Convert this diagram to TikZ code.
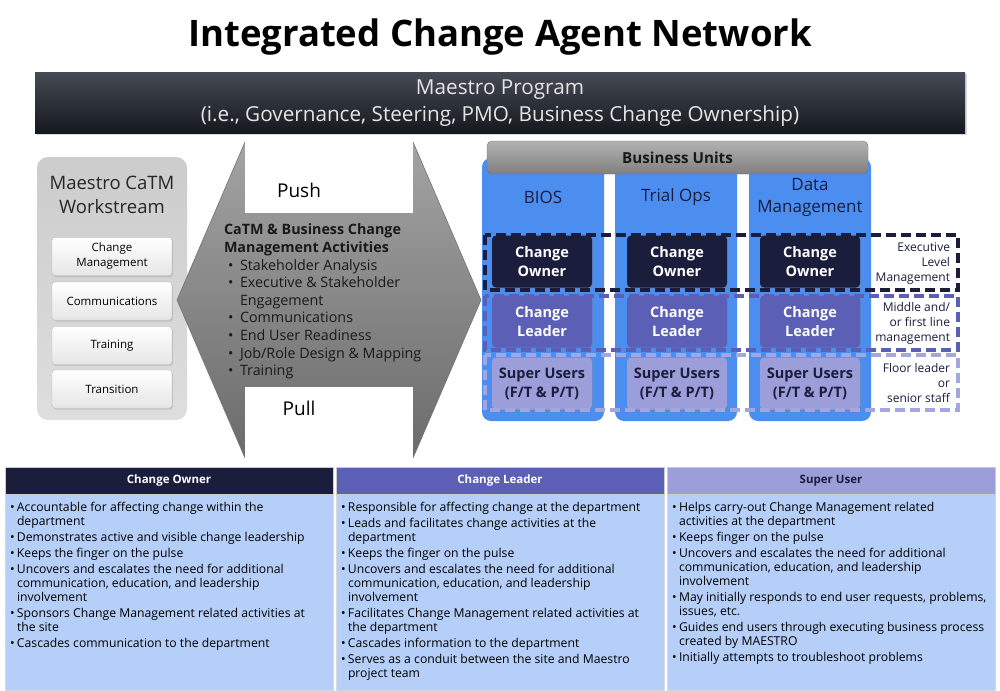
\documentclass[tikz,border=0pt]{standalone}
\usepackage{fontspec}
\setmainfont{Open Sans}
\usetikzlibrary{shadows}
\definecolor{navy}{HTML}{1B1D3D}
\definecolor{leader}{HTML}{5B5FB6}
\definecolor{superc}{HTML}{9C9EDA}
\definecolor{superdash}{HTML}{A4A6E0}
\definecolor{colblue}{HTML}{4C8EF0}
\definecolor{bodyblue}{HTML}{B5CFF8}
\definecolor{barTop}{HTML}{454A54}
\definecolor{barBot}{HTML}{15181E}
\newcommand{\bl}{\makebox[7pt][l]{•}}
\newcommand{\ct}{\hspace*{7pt}}
\newcommand{\ab}{\makebox[16pt][l]{\hspace{4pt}•}}
\begin{document}
\begin{tikzpicture}[x=1pt,y=-1pt,
  every node/.style={inner sep=0pt,outer sep=0pt},
  wbox/.style={minimum width=120pt,minimum height=38pt,rounded corners=3pt,
    top color=white,bottom color=black!10,draw=black!25,align=center,
    font=\fontsize{11.5}{15}\selectfont,drop shadow={opacity=0.25,shadow xshift=1pt,shadow yshift=-1.5pt}},
  colbox/.style={fill=colblue,rounded corners=9pt,minimum width=122pt,minimum height=263pt},
  colhead/.style={align=center,font=\fontsize{17}{22}\selectfont,text=navy},
  rolebox/.style={minimum width=100pt,minimum height=52pt,rounded corners=4pt,align=center,
    font=\bfseries\fontsize{14.5}{19}\selectfont,drop shadow={opacity=0.3,shadow xshift=1pt,shadow yshift=-1.5pt}},
  owner/.style={rolebox,fill=navy,text=white},
  lead/.style={rolebox,fill=leader,text=white},
  superu/.style={rolebox,fill=superc,text=navy},
  band/.style={dash pattern=on 10pt off 5pt,line width=3.5pt},
  lvl/.style={anchor=east,align=right,font=\fontsize{12}{15}\selectfont,text=navy},
  thead/.style={minimum width=328pt,minimum height=27pt,font=\bfseries\fontsize{11.5}{14}\selectfont,draw=black!20},
  tbody/.style={minimum width=328pt,minimum height=196pt,fill=bodyblue,draw=black!15},
  ttext/.style={anchor=north west,align=left,font=\fontsize{12.2}{14}\selectfont,text=black}
]
\useasboundingbox (0,0) rectangle (1000,690);
\fill[white] (0,0) rectangle (1000,690);

% title
\node[font=\bfseries\fontsize{36.5}{40}\selectfont] (title) at (500,37) {Integrated Change Agent Network};

% program bar
\node[top color=barTop,bottom color=barBot,minimum width=930pt,minimum height=60pt,
  drop shadow={opacity=0.3,shadow xshift=1.5pt,shadow yshift=-1.5pt},
  align=center,text=white!90!black,font=\fontsize{20.7}{27}\selectfont] (prog) at (500,103)
  {Maestro Program\\(i.e., Governance, Steering, PMO, Business Change Ownership)};

% workstream
\node[rounded corners=11pt,top color=black!20,bottom color=black!13,minimum width=150pt,minimum height=263pt] (ws) at (112,288.5) {};
\node[align=center,font=\fontsize{18.5}{24}\selectfont,text=black!85] (wst) at (112,195) {Maestro CaTM\\Workstream};
\node[wbox] (w1) at (112,256.5) {Change\\Management};
\node[wbox] (w2) at (112,301) {Communications};
\node[wbox] (w3) at (112,345.5) {Training};
\node[wbox] (w4) at (112,389) {Transition};

% push/pull arrow
\path[top color=black!36,bottom color=black!58,draw=black!55,line width=0.6pt]
  (245,142) -- (413,142) -- (481,300) -- (413,458) -- (245,458) -- (177,300) -- cycle;
\fill[white] (245.3,141) rectangle (412.7,213);
\fill[white] (245.3,387) rectangle (412.7,459);
\node[font=\fontsize{19}{22}\selectfont] (push) at (299,190) {Push};
\node[font=\fontsize{19}{22}\selectfont] (pull) at (299,408) {Pull};
\node[anchor=north west,align=left,font=\fontsize{14.3}{17.6}\selectfont,text=black!90] (acts) at (224,224)
  {{\bfseries CaTM \& Business Change}\\
   {\bfseries Management Activities}\\
   \ab Stakeholder Analysis\\
   \ab Executive \& Stakeholder\\
   \hspace*{16pt}Engagement\\
   \ab Communications\\
   \ab End User Readiness\\
   \ab Job/Role Design \& Mapping\\
   \ab Training};

% business units
\node[colbox] (c1) at (543,289.5) {};
\node[colbox] (c2) at (676,289.5) {};
\node[colbox] (c3) at (810,289.5) {};
\node[rounded corners=5pt,top color=black!30,bottom color=black!50,draw=black!55,
  minimum width=381pt,minimum height=33pt,font=\bfseries\fontsize{15.2}{17}\selectfont,text=black!90] (bu) at (677.5,157.5) {Business Units};
\node[colhead] (h1) at (543,197) {BIOS};
\node[colhead] (h2) at (676,197) {Trial Ops};
\node[colhead] (h3) at (810,197) {Data\\Management};

\node[owner] (o1) at (542,261.5) {Change\\Owner};
\node[owner] (o2) at (677,261.5) {Change\\Owner};
\node[owner] (o3) at (810,261.5) {Change\\Owner};
\node[lead] (l1) at (542,321.5) {Change\\Leader};
\node[lead] (l2) at (677,321.5) {Change\\Leader};
\node[lead] (l3) at (810,321.5) {Change\\Leader};
\node[superu] (s1) at (542,383.5) {Super Users\\(F/T \& P/T)};
\node[superu] (s2) at (677,383.5) {Super Users\\(F/T \& P/T)};
\node[superu] (s3) at (810,383.5) {Super Users\\(F/T \& P/T)};

\draw[band,draw=superdash] (485,355) rectangle (958,410);
\draw[band,draw=leader] (485,296) rectangle (958,350);
\draw[band,draw=navy] (485,235) rectangle (958,290);

\node[lvl] (e1) at (950,264) {Executive\\Level\\Management};
\node[lvl] (e2) at (950,323) {Middle and/\\or first line\\management};
\node[lvl] (e3) at (950,383) {Floor leader\\or\\senior staff};

% bottom table
\node[tbody] (b1) at (169,592) {};
\node[tbody] (b2) at (500,592) {};
\node[tbody] (b3) at (831,592) {};
\node[thead,fill=navy,text=white] (t1) at (169,480.5) {Change Owner};
\node[thead,fill=leader,text=white] (t2) at (500,480.5) {Change Leader};
\node[thead,fill=superc,text=navy] (t3) at (831,480.5) {Super User};

\node[ttext] (x1) at (10,502) {%
\bl Accountable for affecting change within the\\
\ct department\\[2pt]
\bl Demonstrates active and visible change leadership\\[2pt]
\bl Keeps the finger on the pulse\\[2pt]
\bl Uncovers and escalates the need for additional\\
\ct communication, education, and leadership\\
\ct involvement\\[2pt]
\bl Sponsors Change Management related activities at\\
\ct the site\\[2pt]
\bl Cascades communication to the department};

\node[ttext] (x2) at (341,502) {%
\bl Responsible for affecting change at the department\\[2pt]
\bl Leads and facilitates change activities at the\\
\ct department\\[2pt]
\bl Keeps the finger on the pulse\\[2pt]
\bl Uncovers and escalates the need for additional\\
\ct communication, education, and leadership\\
\ct involvement\\[2pt]
\bl Facilitates Change Management related activities at\\
\ct the department\\[2pt]
\bl Cascades information to the department\\[2pt]
\bl Serves as a conduit between the site and Maestro\\
\ct project team};

\node[ttext] (x3) at (672,502) {%
\bl Helps carry-out Change Management related\\
\ct activities at the department\\[2pt]
\bl Keeps finger on the pulse\\[2pt]
\bl Uncovers and escalates the need for additional\\
\ct communication, education, and leadership\\
\ct involvement\\[2pt]
\bl May initially responds to end user requests, problems,\\
\ct issues, etc.\\[2pt]
\bl Guides end users through executing business process\\
\ct created by MAESTRO\\[2pt]
\bl Initially attempts to troubleshoot problems};
\end{tikzpicture}
\end{document}
